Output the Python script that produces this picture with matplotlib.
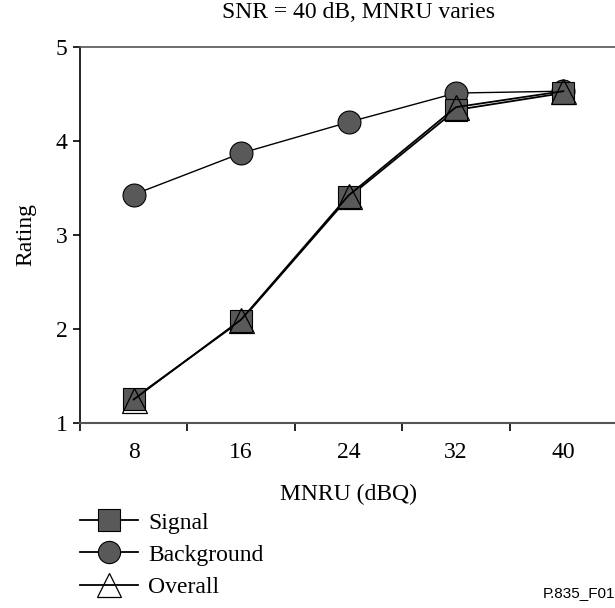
import matplotlib
matplotlib.use("Agg")
import matplotlib.pyplot as plt
from matplotlib.lines import Line2D

plt.rcParams['font.family'] = ['Liberation Serif', 'DejaVu Serif']

mnru = ['8', '16', '24', '32', '40']
signal = [1.26, 2.09, 3.40, 4.33, 4.51]
background = [3.43, 3.87, 4.20, 4.51, 4.53]
overall = [1.25, 2.10, 3.42, 4.36, 4.53]

gray = '#595959'
fs = 17

fig = plt.figure(figsize=(6.15, 6.08), dpi=100)
ax = fig.add_axes([80/615, 1-423/608, 537/615, 376/608])

x = list(range(1, len(mnru) + 1))
ax.plot(x, background, '-', color='black', lw=1.0, marker='o', ms=16.5,
        mfc=gray, mec='black', mew=0.8, zorder=2)
ax.plot(x, signal, '-', color='black', lw=1.3, marker='s', ms=16.5,
        mfc=gray, mec='black', mew=0.8, zorder=3)
ax.plot(x, overall, '-', color='black', lw=1.3, marker='^', ms=18,
        mfc='none', mec='black', mew=0.9, zorder=4)

ax.set_xlim(0.5, len(mnru) + 0.5)
ax.set_ylim(1, 5)
ax.set_yticks([1, 2, 3, 4, 5])
ax.set_xticks([i + 0.5 for i in range(0, len(mnru))])
ax.set_xticklabels([])
ax.set_xticks(x, minor=True)
ax.set_xticklabels(mnru, minor=True)
ax.tick_params(axis='x', which='major', direction='out', length=6, width=1.2)
ax.tick_params(axis='x', which='minor', length=0, pad=14, labelsize=fs)
ax.tick_params(axis='y', direction='out', length=5, width=1.2, pad=4, labelsize=fs)

ax.spines['right'].set_visible(False)
ax.spines['left'].set_linewidth(1.2)
ax.spines['bottom'].set_color('#555555')
ax.spines['bottom'].set_linewidth(1.5)
ax.spines['top'].set_color('#555555')
ax.spines['top'].set_linewidth(1.2)

ax.set_xlabel('MNRU (dBQ)', fontsize=fs, labelpad=15)
ax.set_ylabel('Rating', fontsize=fs, labelpad=14)
fig.text(359/615, 1-13/608, 'SNR = 40 dB, MNRU varies', fontsize=fs,
         ha='center', va='center')

handles = [
    Line2D([], [], color='black', lw=1.3, marker='s', ms=16, mfc=gray, mec='black', mew=0.8),
    Line2D([], [], color='black', lw=1.3, marker='o', ms=16, mfc=gray, mec='black', mew=0.8),
    Line2D([], [], color='black', lw=1.3, marker='^', ms=17, mfc='none', mec='black', mew=0.9),
]
fig.legend(handles, ['Signal', 'Background', 'Overall'], loc='upper left',
           bbox_to_anchor=(80/615, 1-512/608), frameon=False, fontsize=fs,
           handlelength=2.46, handletextpad=0.42, labelspacing=0.45,
           borderpad=0, borderaxespad=0)

fig.text(543/615, 1-593/608, 'P.835_F01', fontsize=11, family='Liberation Sans',
         ha='left', va='center')

fig.savefig('out.png', dpi=100)
